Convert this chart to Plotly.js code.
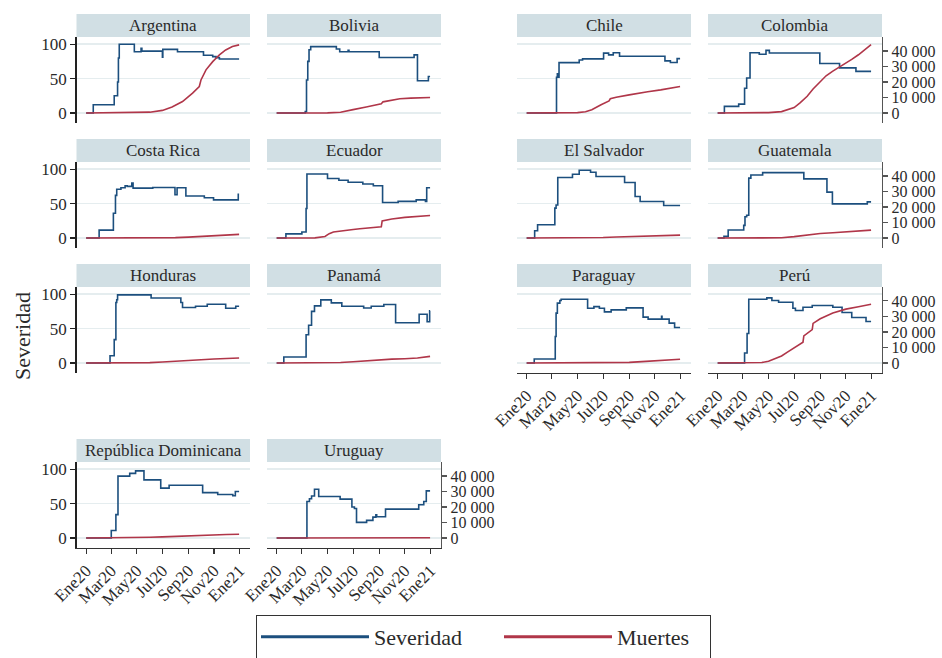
<!DOCTYPE html>
<html><head><meta charset="utf-8">
<script src="https://cdn.plot.ly/plotly-3.0.1.min.js"></script>
<style>html,body{margin:0;padding:0;background:#fff}#chart{width:942px;height:658px}</style>
</head><body><div id="chart"></div>
<script>
// ---------------- DATA ----------------
const countries = ["Argentina","Bolivia","Chile","Colombia","Costa Rica","Ecuador","El Salvador","Guatemala","Honduras","Panamá","Paraguay","Perú","República Dominicana","Uruguay"];

// Severity (stringency index, 0-100) step series: [date, value]
const sevArgentina = [["2020-01-01",0],["2020-01-18",12],["2020-03-08",25],["2020-03-16",45],["2020-03-18",80],["2020-03-20",100],["2020-04-25",89],["2020-05-11",94],["2020-05-13",90],["2020-07-01",81],["2020-07-02",92.5],["2020-08-06",89],["2020-10-07",84],["2020-10-29",82],["2020-11-06",80.5],["2020-11-14",78.5],["2020-12-31",78.5]];
const sevBolivia = [["2020-01-01",0],["2020-03-09",2],["2020-03-12",48],["2020-03-15",75],["2020-03-18",92],["2020-03-22",96.5],["2020-05-22",93],["2020-05-30",89],["2020-06-19",91],["2020-06-21",89],["2020-09-01",80.6],["2020-11-23",84.5],["2020-12-01",47],["2020-12-27",53],["2020-12-31",53]];
const sevChile = [["2020-01-01",0],["2020-03-12",52],["2020-03-14",57],["2020-03-16",52],["2020-03-18",73.3],["2020-05-05",77],["2020-05-13",78.7],["2020-07-02",87],["2020-07-14",84.5],["2020-07-25",87.5],["2020-08-09",82.5],["2020-11-25",75.8],["2020-12-08",73.4],["2020-12-24",79],["2020-12-31",79]];
const sevColombia = [["2020-01-01",0],["2020-01-17",9.6],["2020-02-20",13],["2020-03-05",36],["2020-03-10",51],["2020-03-18",87.6],["2020-04-09",85.5],["2020-04-25",91],["2020-05-03",87.3],["2020-08-31",72],["2020-10-17",65.6],["2020-11-25",60.5],["2020-12-31",60.5]];
const sevCostaRica = [["2020-01-01",0],["2020-02-01",11.5],["2020-03-06",36],["2020-03-11",62],["2020-03-14",71],["2020-03-24",73],["2020-04-03",76],["2020-04-08",75],["2020-04-19",80],["2020-04-22",72.5],["2020-06-08",73.5],["2020-07-31",63],["2020-08-05",73],["2020-08-26",61],["2020-10-09",58.5],["2020-10-31",55.5],["2020-12-29",63.5],["2020-12-31",63.5]];
const sevEcuador = [["2020-01-01",0],["2020-01-23",6],["2020-03-01",8.7],["2020-03-11",43],["2020-03-13",93],["2020-05-01",86.5],["2020-05-28",84],["2020-06-19",81],["2020-07-24",78.5],["2020-08-18",76],["2020-09-09",51.6],["2020-10-16",53.3],["2020-11-28",55.5],["2020-12-20",53],["2020-12-23",73],["2020-12-31",73]];
const sevElSalvador = [["2020-01-01",0],["2020-01-20",10.5],["2020-01-27",19.3],["2020-03-08",43.5],["2020-03-11",48],["2020-03-15",88],["2020-04-19",92.8],["2020-05-05",98.5],["2020-06-01",95.6],["2020-06-14",89.4],["2020-08-21",80.7],["2020-09-15",60.4],["2020-09-27",53],["2020-11-22",47.3],["2020-12-31",47.3]];
const sevGuatemala = [["2020-01-01",0],["2020-01-16",2.4],["2020-01-26",11.6],["2020-03-03",18.4],["2020-03-06",31],["2020-03-10",33],["2020-03-15",87],["2020-03-20",91.7],["2020-04-17",95],["2020-07-24",86],["2020-09-17",66.7],["2020-09-30",49.7],["2020-12-22",52.6],["2020-12-31",52.6]];
const sevHonduras = [["2020-01-01",0],["2020-02-27",10.6],["2020-03-08",34],["2020-03-12",88],["2020-03-14",92],["2020-03-16",99],["2020-06-04",94.5],["2020-08-14",88],["2020-08-18",80.6],["2020-09-18",82.6],["2020-10-16",85.5],["2020-11-29",79.6],["2020-12-23",82.5],["2020-12-31",82.5]];
const sevPanama = [["2020-01-01",0],["2020-01-18",8.7],["2020-03-11",41],["2020-03-17",55],["2020-03-24",75],["2020-03-31",83],["2020-04-15",91.8],["2020-05-10",87.4],["2020-06-04",82.6],["2020-07-26",80],["2020-08-13",82.6],["2020-09-12",85],["2020-10-10",58.5],["2020-12-05",71],["2020-12-24",60],["2020-12-30",76],["2020-12-31",76]];
const sevParaguay = [["2020-01-01",0],["2020-01-19",5.8],["2020-03-09",38.6],["2020-03-11",72.5],["2020-03-14",87],["2020-03-20",90.8],["2020-03-23",92.8],["2020-05-25",79.7],["2020-06-09",82],["2020-06-22",79.7],["2020-07-04",74.4],["2020-07-20",77.3],["2020-08-25",80.2],["2020-10-04",66.7],["2020-10-16",63.8],["2020-11-17",68],["2020-11-18",63.8],["2020-12-05",58],["2020-12-18",51.7],["2020-12-31",51.7]];
const sevPeru = [["2020-01-01",0],["2020-03-05",14.5],["2020-03-11",43],["2020-03-15",92.8],["2020-04-27",94.7],["2020-05-09",90.8],["2020-05-25",88.4],["2020-06-28",79.7],["2020-07-04",76.3],["2020-07-22",81],["2020-08-13",83.6],["2020-10-01",81],["2020-10-23",73.4],["2020-11-15",66.2],["2020-12-19",60.4],["2020-12-31",60.4]];
const sevRepDom = [["2020-01-01",0],["2020-03-01",11],["2020-03-12",34],["2020-03-17",90],["2020-04-14",94],["2020-04-28",97.6],["2020-05-18",84.5],["2020-06-27",72.5],["2020-07-17",76.8],["2020-10-05",66],["2020-11-10",63.3],["2020-12-16",61.4],["2020-12-22",67.6],["2020-12-31",67.6]];
const sevUruguay = [["2020-01-01",0],["2020-03-11",0],["2020-03-13",53],["2020-03-19",57],["2020-03-24",61],["2020-03-31",71],["2020-04-10",60.4],["2020-05-31",56.5],["2020-06-28",45],["2020-07-04",43],["2020-07-09",22.7],["2020-08-02",25.6],["2020-08-17",30.4],["2020-08-24",33.8],["2020-08-26",31],["2020-09-16",42],["2020-12-04",48.3],["2020-12-16",53],["2020-12-22",68.6],["2020-12-31",68.6]];

// Cumulative deaths: [date, deaths]
const dthArgentina = [["2020-01-01",0],["2020-04-01",50],["2020-05-01",200],["2020-06-01",550],["2020-07-01",1680],["2020-07-24",3850],["2020-08-18",7400],["2020-09-11",12800],["2020-09-27",17100],["2020-10-01",21300],["2020-10-13",27800],["2020-10-29",33100],["2020-11-14",37400],["2020-11-29",40600],["2020-12-15",42800],["2020-12-31",43900]];
const dthBolivia = [["2020-01-01",0],["2020-04-01",10],["2020-05-01",80],["2020-06-01",500],["2020-06-15",1400],["2020-07-01",2200],["2020-08-01",3850],["2020-09-01",5800],["2020-09-06",6000],["2020-09-10",7200],["2020-10-01",8100],["2020-10-20",9200],["2020-11-15",9600],["2020-12-31",10000]];
const dthChile = [["2020-01-01",0],["2020-04-01",50],["2020-05-01",250],["2020-05-20",800],["2020-06-04",2100],["2020-06-26",5350],["2020-07-15",7800],["2020-07-18",9200],["2020-08-01",10200],["2020-09-01",11700],["2020-09-23",12800],["2020-10-15",13700],["2020-11-15",14900],["2020-12-15",16100],["2020-12-31",17100]];
const dthColombia = [["2020-01-01",0],["2020-04-01",30],["2020-05-01",280],["2020-06-01",900],["2020-06-15",1900],["2020-07-01",3500],["2020-07-15",6500],["2020-08-01",10800],["2020-08-15",15500],["2020-09-01",20500],["2020-09-15",24000],["2020-10-01",27000],["2020-10-17",29500],["2020-11-01",32000],["2020-11-15",34500],["2020-12-01",37500],["2020-12-15",40500],["2020-12-31",44000]];
const dthCostaRica = [["2020-01-01",0],["2020-06-01",10],["2020-07-01",20],["2020-07-15",70],["2020-08-01",230],["2020-09-01",600],["2020-10-01",1000],["2020-11-01",1450],["2020-12-01",1850],["2020-12-31",2350]];
const dthEcuador = [["2020-01-01",0],["2020-04-01",100],["2020-04-25",1000],["2020-05-05",2800],["2020-05-15",3850],["2020-06-01",4300],["2020-07-01",5500],["2020-07-17",6000],["2020-08-01",6400],["2020-09-06",7300],["2020-09-08",11000],["2020-10-01",12300],["2020-11-01",13300],["2020-12-01",14000],["2020-12-31",14500]];
const dthElSalvador = [["2020-01-01",0],["2020-05-01",10],["2020-06-01",50],["2020-07-01",300],["2020-08-01",650],["2020-09-01",950],["2020-10-01",1200],["2020-11-01",1400],["2020-12-01",1600],["2020-12-31",1850]];
const dthGuatemala = [["2020-01-01",0],["2020-05-01",20],["2020-06-01",150],["2020-07-01",900],["2020-08-01",2000],["2020-09-01",2900],["2020-10-01",3400],["2020-11-01",3900],["2020-12-01",4400],["2020-12-31",5100]];
const dthHonduras = [["2020-01-01",0],["2020-04-01",5],["2020-05-01",70],["2020-06-01",250],["2020-07-01",700],["2020-08-01",1250],["2020-09-01",1750],["2020-10-01",2200],["2020-11-01",2600],["2020-12-01",2900],["2020-12-31",3200]];
const dthPanama = [["2020-01-01",0],["2020-04-01",30],["2020-05-01",200],["2020-06-01",350],["2020-07-01",800],["2020-08-01",1500],["2020-09-01",2100],["2020-10-01",2500],["2020-11-01",2800],["2020-12-01",3200],["2020-12-31",4300]];
const dthParaguay = [["2020-01-01",0],["2020-07-01",20],["2020-08-01",100],["2020-09-01",400],["2020-10-01",900],["2020-11-01",1400],["2020-12-01",1900],["2020-12-31",2400]];
const dthPeru = [["2020-01-01",0],["2020-04-01",30],["2020-04-15",300],["2020-05-01",1200],["2020-05-15",2500],["2020-06-01",4500],["2020-06-15",7000],["2020-07-01",9700],["2020-07-22",13400],["2020-07-24",17500],["2020-08-01",19000],["2020-08-13",21500],["2020-08-15",25500],["2020-09-01",28500],["2020-10-01",32200],["2020-11-01",34700],["2020-12-01",36200],["2020-12-31",37800]];
const dthRepDom = [["2020-01-01",0],["2020-04-01",50],["2020-05-01",250],["2020-06-01",500],["2020-07-01",750],["2020-08-01",1100],["2020-09-01",1600],["2020-10-01",2000],["2020-11-01",2150],["2020-12-01",2250],["2020-12-31",2400]];
const dthUruguay = [["2020-01-01",0],["2020-04-01",1],["2020-05-01",18],["2020-06-01",22],["2020-07-01",27],["2020-08-01",35],["2020-09-01",45],["2020-10-01",48],["2020-11-01",58],["2020-12-01",80],["2020-12-31",181]];

const severity = [sevArgentina,sevBolivia,sevChile,sevColombia,sevCostaRica,sevEcuador,sevElSalvador,sevGuatemala,sevHonduras,sevPanama,sevParaguay,sevPeru,sevRepDom,sevUruguay];
const deaths = [dthArgentina,dthBolivia,dthChile,dthColombia,dthCostaRica,dthEcuador,dthElSalvador,dthGuatemala,dthHonduras,dthPanama,dthParaguay,dthPeru,dthRepDom,dthUruguay];

const xTickVals = ["2020-01-01","2020-03-01","2020-05-01","2020-07-01","2020-09-01","2020-11-01","2021-01-01"];
const xTickText = ["Ene20","Mar20","May20","Jul20","Sep20","Nov20","Ene21"];
const sevTickVals = [0,50,100];
const deathTickVals = [0,10000,20000,30000,40000];
const deathTickText = ["0","10 000","20 000","30 000","40 000"];
const seriesNames = ["Severidad","Muertes"];

// ---------------- LAYOUT ----------------
const W = 942, H = 658;
const FONT = "Liberation Serif, DejaVu Serif, serif";
const BLUE = "#1c4f7e", RED = "#b03649";
const TXT = "#2a2a2a";
const colX = [[76.5,250],[267,441],[517,691],[708,882]];
const rowY = [[37,123],[162,248],[287,373],[462,548]];
const STRIP = 23;
const panelPos = [[0,0],[0,1],[0,2],[0,3],[1,0],[1,1],[1,2],[1,3],[2,0],[2,1],[2,2],[2,3],[3,0],[3,1]];
const bottomPanels = [10,11,12,13];
const rightPanels = [3,7,11,13];
const SEV_RANGE = [-14.5,110.5];
const K = 443; // deaths per severity unit
const DTH_RANGE = [SEV_RANGE[0]*K, SEV_RANGE[1]*K];

const traces = [];
const layout = {
  width: W, height: H,
  margin: {l:0,r:0,t:0,b:0,autoexpand:false},
  paper_bgcolor: "#fff", plot_bgcolor: "#fff",
  font: {family: FONT, size: 17, color: TXT},
  showlegend: true,
  legend: {orientation: "h", x: 256/W, y: 1-615/H, xanchor: "left", yanchor: "top",
           bgcolor: "#fff", bordercolor: "#333", borderwidth: 1,
           font: {family: FONT, size: 22, color: TXT},
           itemwidth: 108, entrywidth: 120, entrywidthmode: "pixels"},
  shapes: [], annotations: [], hovermode: false
};

countries.forEach((name, i) => {
  const n = i + 1;
  const [r, c] = panelPos[i];
  const xs = n === 1 ? "" : String(n);
  const yR = String(14 + n);
  const isBottom = bottomPanels.includes(i);
  const isLeft = c === 0;
  const isRight = rightPanels.includes(i);
  const xd = [colX[c][0]/W, colX[c][1]/W];
  const yd = [1 - rowY[r][1]/H, 1 - rowY[r][0]/H];

  layout["xaxis"+xs] = {
    domain: xd, anchor: "y"+xs, type: "date",
    range: ["2019-12-09","2021-01-26"],
    tickvals: xTickVals, ticktext: xTickText, tickangle: -45,
    showline: isBottom, linecolor: "#333", linewidth: 1.2,
    ticks: isBottom ? "outside" : "", ticklen: 5, tickwidth: 1.2, tickcolor: "#333",
    showticklabels: isBottom, tickfont: {family: FONT, size: 17, color: TXT},
    showgrid: false, zeroline: false, fixedrange: true
  };
  layout["yaxis"+xs] = {
    domain: yd, anchor: "x"+xs, range: SEV_RANGE,
    tickvals: sevTickVals,
    showgrid: true, gridcolor: "#e5edef", gridwidth: 1.5,
    showline: isLeft, linecolor: "#222", linewidth: 1.3,
    ticks: isLeft ? "outside" : "", ticklen: 5, tickwidth: 1.2, tickcolor: "#222",
    showticklabels: isLeft, tickfont: {family: FONT, size: 17, color: TXT},
    zeroline: false, fixedrange: true
  };
  layout["yaxis"+yR] = {
    overlaying: "y"+xs, side: "right", anchor: "x"+xs, range: DTH_RANGE,
    tickvals: deathTickVals, ticktext: deathTickText,
    showgrid: false, zeroline: false,
    showline: isRight, linecolor: "#555", linewidth: 1.2,
    ticks: isRight ? "outside" : "", ticklen: 5, tickwidth: 1.2, tickcolor: "#555",
    showticklabels: isRight, tickfont: {family: FONT, size: 16, color: TXT},
    fixedrange: true
  };

  const sev = severity[i], dth = deaths[i];
  traces.push({
    type: "scatter", mode: "lines", name: seriesNames[0], legendgroup: "sev",
    showlegend: false,
    x: sev.map(p => p[0]), y: sev.map(p => p[1]),
    xaxis: "x"+xs, yaxis: "y"+xs,
    line: {color: BLUE, width: 1.6, shape: "hv"}
  });
  traces.push({
    type: "scatter", mode: "lines", name: seriesNames[1], legendgroup: "dth",
    showlegend: false,
    x: dth.map(p => p[0]), y: dth.map(p => p[1]),
    xaxis: "x"+xs, yaxis: "y"+yR,
    line: {color: RED, width: 1.6}
  });

  // strip header
  layout.shapes.push({
    type: "rect", xref: "paper", yref: "paper", layer: "below",
    x0: xd[0], x1: xd[1], y0: 1 - rowY[r][0]/H, y1: 1 - (rowY[r][0]-STRIP)/H,
    fillcolor: "#d1dfe4", line: {width: 0}
  });
  layout.annotations.push({
    xref: "paper", yref: "paper", showarrow: false,
    x: (xd[0]+xd[1])/2, y: 1 - (rowY[r][0]-STRIP/2)/H,
    xanchor: "center", yanchor: "middle",
    text: name, font: {family: FONT, size: 17, color: TXT}
  });
});

// legend entries (thicker key lines, as in the reference legend)
traces.push({type: "scatter", mode: "lines", name: seriesNames[0], legendgroup: "sev",
  x: [null], y: [null], line: {color: BLUE, width: 3}});
traces.push({type: "scatter", mode: "lines", name: seriesNames[1], legendgroup: "dth",
  x: [null], y: [null], line: {color: RED, width: 3}});

layout.annotations.push({
  xref: "paper", yref: "paper", showarrow: false,
  x: 22/W, y: 1 - 336/H, xanchor: "center", yanchor: "middle",
  textangle: -90, text: "Severidad", font: {family: FONT, size: 22, color: TXT}
});

Plotly.newPlot("chart", traces, layout, {displayModeBar: false, staticPlot: true}).then(gd => {
  // trim the legend box to the reference width (ends right after the last entry)
  const bg = gd.querySelector(".legend .bg");
  if (bg) {
    const target = 710 - 256;
    bg.setAttribute("width", target);
  }
});
</script>
</body></html>
